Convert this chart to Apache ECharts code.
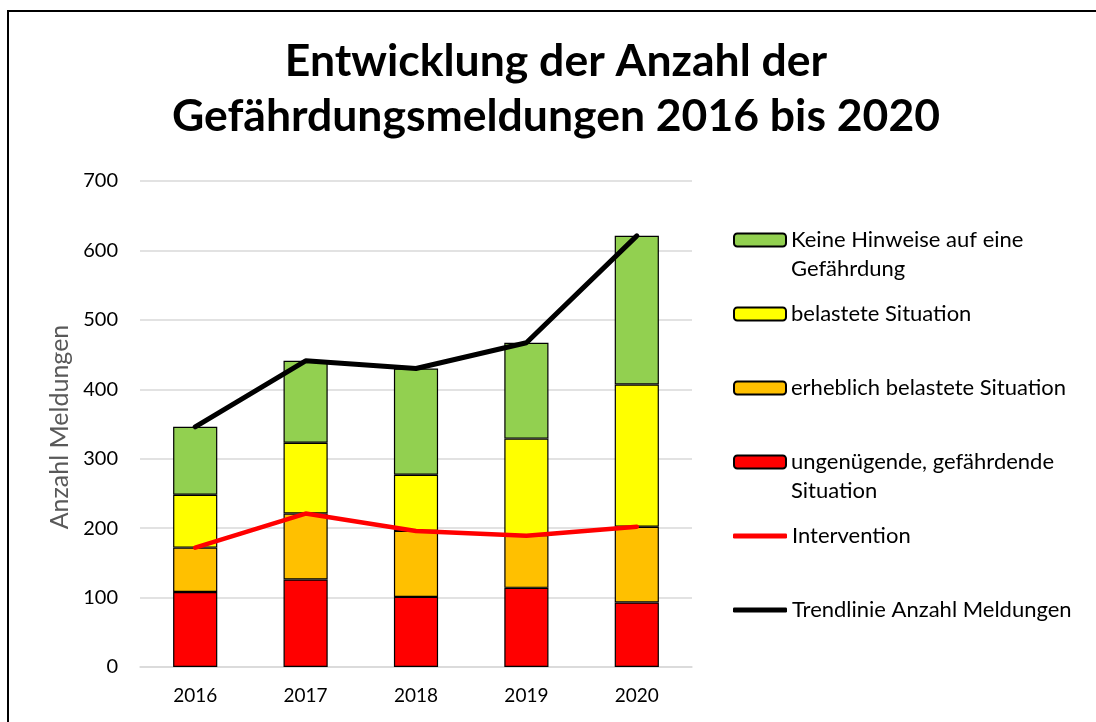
<!DOCTYPE html>
<html>
<head>
<meta charset="utf-8">
<script src="https://cdn.jsdelivr.net/npm/echarts@6/dist/echarts.min.js"></script>
<style>
  html, body { margin: 0; padding: 0; background: #fff; overflow: hidden; }
  #chart { width: 1096px; height: 722px; }
  #frame { position: absolute; left: 7px; top: 10px; width: 1200px; height: 800px;
           border-left: 2px solid #000; border-top: 2px solid #000; pointer-events: none; }
</style>
</head>
<body>
<div id="chart"></div>
<div id="frame"></div>
<script>
var years = ['2016', '2017', '2018', '2019', '2020'];
var ungenuegend = [108, 126, 101, 114, 93];
var erheblich = [64, 95, 95, 76, 109];
var belastet = [76, 102, 81, 139, 205];
var keineHinweise = [98, 118, 153, 138, 214];
var intervention = [172, 221, 196, 189, 202];
var trendlinie = [346, 441, 430, 467, 621];

var FONT = 'Lato, "Open Sans", sans-serif';

function barSeries(name, values, color) {
  return {
    name: name,
    type: 'bar',
    stack: 'meldungen',
    barWidth: '40%',
    data: values,
    itemStyle: { color: color, borderColor: '#000', borderWidth: 1.2 }
  };
}

// icon sits on the first text line; two-line names get an empty leading line
// so the block stays centred on the icon
function legendAt(name, iconY, lineIcon) {
  var twoLines = name.indexOf('\n') >= 0;
  var l = {
    data: [name],
    left: 733,
    top: twoLines ? iconY - 43.5 : iconY - 14.5,
    padding: 0,
    itemWidth: lineIcon ? 54 : 52,
    itemHeight: lineIcon ? 5 : 13,
    itemGap: 0,
    formatter: function (n) { return twoLines ? '\n' + n : n; },
    textStyle: { fontFamily: FONT, fontSize: 22, color: '#000', lineHeight: 29 }
  };
  if (lineIcon) l.icon = 'roundRect';
  return l;
}

var option = {
  animation: false,
  title: {
    text: 'Entwicklung der Anzahl der\nGefährdungsmeldungen 2016 bis 2020',
    left: 551,
    top: 29,
    textAlign: 'center',
    textStyle: { fontFamily: FONT, fontSize: 44.5, fontWeight: 'bold', color: '#000', lineHeight: 55 }
  },
  legend: [
    legendAt('Keine Hinweise auf eine\nGefährdung', 240, false),
    legendAt('belastete Situation', 314, false),
    legendAt('erheblich belastete Situation', 388, false),
    legendAt('ungenügende, gefährdende\nSituation', 462, false),
    legendAt('Intervention', 536, true),
    legendAt('Trendlinie Anzahl Meldungen', 610, true)
  ],
  grid: { left: 140, right: 404, top: 181, bottom: 55 },
  xAxis: {
    type: 'category',
    data: years,
    axisLine: { lineStyle: { color: '#d9d9d9', width: 1.5 } },
    axisTick: { show: false },
    axisLabel: { fontFamily: FONT, fontSize: 19, color: '#000', margin: 19 }
  },
  yAxis: {
    type: 'value',
    min: 0,
    max: 700,
    interval: 100,
    name: 'Anzahl Meldungen',
    nameLocation: 'middle',
    nameGap: 68,
    nameRotate: 90,
    nameTextStyle: { fontFamily: FONT, fontSize: 25, color: '#595959', padding: [0, 6, 0, 0] },
    axisLine: { show: false },
    axisTick: { show: false },
    axisLabel: { fontFamily: FONT, fontSize: 20, color: '#000', margin: 22 },
    splitLine: { lineStyle: { color: '#d9d9d9', width: 1.5 } }
  },
  series: [
    barSeries('ungenügende, gefährdende\nSituation', ungenuegend, '#ff0000'),
    barSeries('erheblich belastete Situation', erheblich, '#ffc000'),
    barSeries('belastete Situation', belastet, '#ffff00'),
    barSeries('Keine Hinweise auf eine\nGefährdung', keineHinweise, '#92d050'),
    {
      name: 'Intervention',
      type: 'line',
      data: intervention,
      symbol: 'none',
      itemStyle: { color: '#ff0000' },
      lineStyle: { color: '#ff0000', width: 4.5, cap: 'round' }
    },
    {
      name: 'Trendlinie Anzahl Meldungen',
      type: 'line',
      data: trendlinie,
      symbol: 'none',
      itemStyle: { color: '#000' },
      lineStyle: { color: '#000', width: 5, cap: 'round' }
    }
  ]
};

var chart = echarts.init(document.getElementById('chart'));
chart.setOption(option);
</script>
</body>
</html>
